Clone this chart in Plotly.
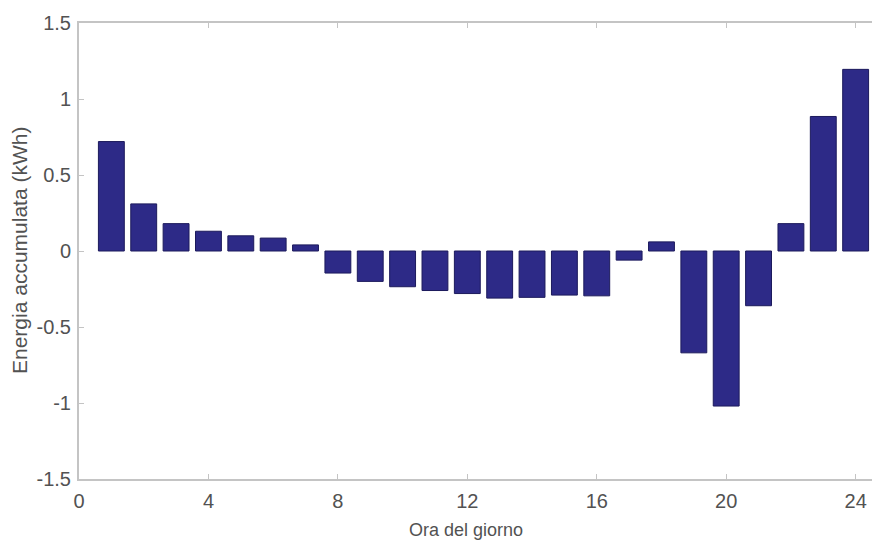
import plotly.graph_objects as go

hours = list(range(1, 25))
energy = [0.72, 0.31, 0.18, 0.13, 0.10, 0.085, 0.04, -0.145, -0.20, -0.235, -0.26, -0.28,
          -0.31, -0.305, -0.29, -0.295, -0.06, 0.06, -0.67, -1.02, -0.36, 0.18, 0.885, 1.195]

x_ticks = [0, 4, 8, 12, 16, 20, 24]
y_ticks = [-1.5, -1, -0.5, 0, 0.5, 1, 1.5]
y_tick_labels = ["-1.5", "-1", "-0.5", "0", "0.5", "1", "1.5"]

x_title = "Ora del giorno"
y_title = "Energia accumulata (kWh)"

fig = go.Figure(go.Bar(
    x=hours, y=energy, width=0.8,
    marker=dict(color="#2d2a87", line=dict(color="#1c1a5c", width=1)),
))

axis_color = "#c4c4c4"
font_color = "#525252"
font_family = "Liberation Sans, Arial, sans-serif"

fig.update_layout(
    width=880, height=540,
    margin=dict(l=71, r=0, t=15, b=69, autoexpand=False),
    paper_bgcolor="white", plot_bgcolor="white",
    showlegend=False,
    font=dict(family=font_family, color=font_color, size=14),
    xaxis=dict(
        range=[0, 25], tickvals=x_ticks, ticktext=[str(v) for v in x_ticks],
        showgrid=False, zeroline=False, automargin=False,
        showline=True, linecolor=axis_color, linewidth=2, mirror="ticks",
        ticks="inside", ticklen=5, tickcolor=axis_color, tickwidth=1,
        tickfont=dict(size=20, color=font_color), ticklabelstandoff=3,
    ),
    yaxis=dict(
        range=[-1.5, 1.5], tickvals=y_ticks, ticktext=y_tick_labels,
        showgrid=False, zeroline=False, automargin=False,
        showline=True, linecolor=axis_color, linewidth=2,
        ticks="inside", ticklen=5, tickcolor=axis_color, tickwidth=1,
        tickfont=dict(size=20, color=font_color), ticklabelstandoff=2,
    ),
    annotations=[
        dict(text=x_title, xref="x", yref="paper", x=11.96, y=0,
             xanchor="center", yanchor="middle", yshift=-51, showarrow=False,
             font=dict(size=18, color=font_color, family=font_family)),
        dict(text=y_title, xref="paper", yref="paper", x=0, y=0.5,
             xanchor="center", yanchor="middle", xshift=-60, textangle=-90,
             showarrow=False,
             font=dict(size=21, color=font_color, family=font_family)),
    ],
)

fig.write_html("out.html")
